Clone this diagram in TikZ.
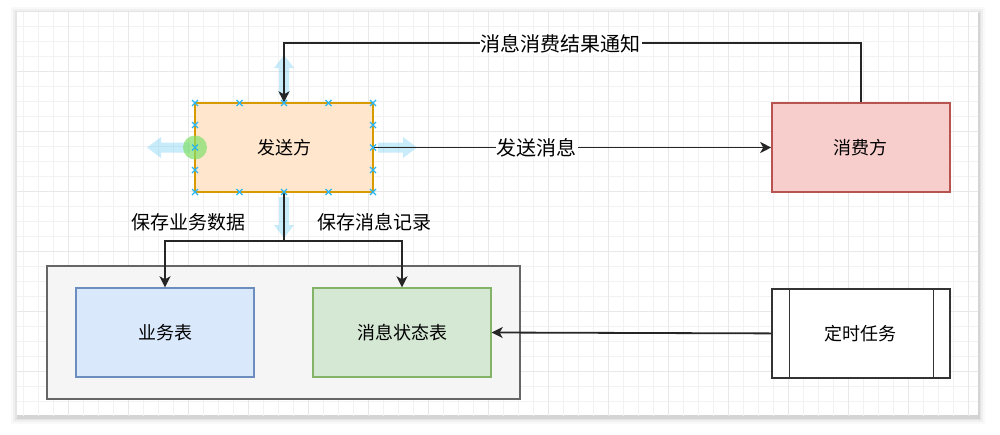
\documentclass[tikz,border=0pt]{standalone}
\usepackage{fontspec}
\newfontfamily\cjk{Noto Sans CJK SC}
\usetikzlibrary{arrows.meta,positioning}

\definecolor{orangefill}{HTML}{FFE6CC}
\definecolor{orangeline}{HTML}{D79B00}
\definecolor{redfill}{HTML}{F8CECC}
\definecolor{redline}{HTML}{B85450}
\definecolor{bluefill}{HTML}{DAE8FC}
\definecolor{blueline}{HTML}{6C8EBF}
\definecolor{greenfill}{HTML}{D5E8D4}
\definecolor{greenline}{HTML}{82B366}
\definecolor{greyfill}{HTML}{F5F5F5}
\definecolor{greyline}{HTML}{666666}
\definecolor{handleblue}{HTML}{29B6F2}
\definecolor{hintgreen}{HTML}{7FE06A}

\tikzset{
  box/.style={draw, line width=1.4pt, minimum width=178pt, minimum height=89pt,
    inner sep=0pt, font=\cjk\fontsize{18}{20}\selectfont},
  edge/.style={draw=black!85, line width=1.8pt,
    -{Stealth[length=11pt,width=11pt,inset=3pt]}},
  elabel/.style={fill=white, inner sep=1pt, font=\cjk\fontsize{20}{22}\selectfont},
  hint/.style={fill=handleblue, opacity=0.25},
  handlex/.style={draw=handleblue, line width=1.2pt},
  gridminor/.style={draw=black!5, line width=0.8pt},
  gridmajor/.style={draw=black!9, line width=0.9pt}
}
\newcommand\handlemark[1]{\draw[handlex] (#1) +(-3,-3) -- +(3,3) +(-3,3) -- +(3,-3);}

\begin{document}
\begin{tikzpicture}[x=1pt, y=-1pt]
  \useasboundingbox (0,0) rectangle (1000,434);
  % canvas with shadow
  \foreach \d/\o in {7/0.025, 5/0.035, 3/0.05, 1.5/0.07}
    \fill[black, opacity=\o] (17-\d+1,12-\d+2) rectangle (978+\d,415+\d+2);
  \fill[white] (17,12) rectangle (978,415);
  \begin{scope}
    \clip (17,12) rectangle (978,415);
    \draw[gridminor, step=15pt, shift={(8.3,11)}] (0,0) grid (1000,420);
    \draw[gridmajor, step=60pt, shift={(8.3,11)}] (0,0) grid (1000,420);
  \end{scope}

  % nodes
  \node[box, fill=greyfill, draw=greyline, minimum width=473pt, minimum height=133pt]
    (store) at (283.5,332.5) {};
  \node[box, fill=orangefill, draw=orangeline] (sender) at (284,147.5) {发送方};
  \node[box, fill=redfill, draw=redline, right=397.5pt of sender] (consumer) {消费方};
  \node[box, fill=bluefill, draw=blueline] (biz) at (165,332.5) {业务表};
  \node[box, fill=greenfill, draw=greenline] (msgtab) at (402,332.5) {消息状态表};
  \node[box, fill=white, draw=black!80, below=95.5pt of consumer] (timer) {定时任务};
  \draw[black!80, line width=1.4pt] ([xshift=18pt]timer.north west) -- ([xshift=18pt]timer.south west)
    ([xshift=-17pt]timer.north east) -- ([xshift=-17pt]timer.south east);

  % hints round the selected node
  \fill[hint] (284,55) -- (294,68) -- (289,68) -- (289,95) -- (279,95) -- (279,68) -- (274,68) -- cycle;
  \fill[hint] (284,238) -- (294,225) -- (289,225) -- (289,197) -- (279,197) -- (279,225) -- (274,225) -- cycle;
  \fill[hint] (147,147.5) -- (161,137) -- (161,142.5) -- (190,142.5) -- (190,152.5) -- (161,152.5) -- (161,158) -- cycle;
  \fill[hint] (417,147.5) -- (403,137) -- (403,142.5) -- (378,142.5) -- (378,152.5) -- (403,152.5) -- (403,158) -- cycle;

  % connectors
  \draw[edge] (consumer.north) -- ++(0,-59) -| node[elabel, pos=0.26] {消息消费结果通知} (sender.north);
  \draw[edge] (sender.east) -- node[elabel, pos=0.41] {发送消息} (consumer.west);
  \draw[edge] (sender.south) -- ++(0,48) coordinate (fork) -| (biz.north);
  \draw[edge] (fork) -| (msgtab.north);
  \draw[edge] (timer.west) -- (msgtab.east);
  \node[font=\cjk\fontsize{19}{21}\selectfont] (savebiz) at (188,222) {保存业务数据};
  \node[font=\cjk\fontsize{19}{21}\selectfont] (savemsg) at (374,222) {保存消息记录};

  % selection handles
  \fill[hintgreen, opacity=0.7] (195,147.5) circle (12);
  \foreach \x in {195,239.5,284,328.5,373} {
    \handlemark{\x,103}
    \handlemark{\x,192}
  }
  \foreach \y in {125,147.5,170} {
    \handlemark{195,\y}
    \handlemark{373,\y}
  }
\end{tikzpicture}
\end{document}
